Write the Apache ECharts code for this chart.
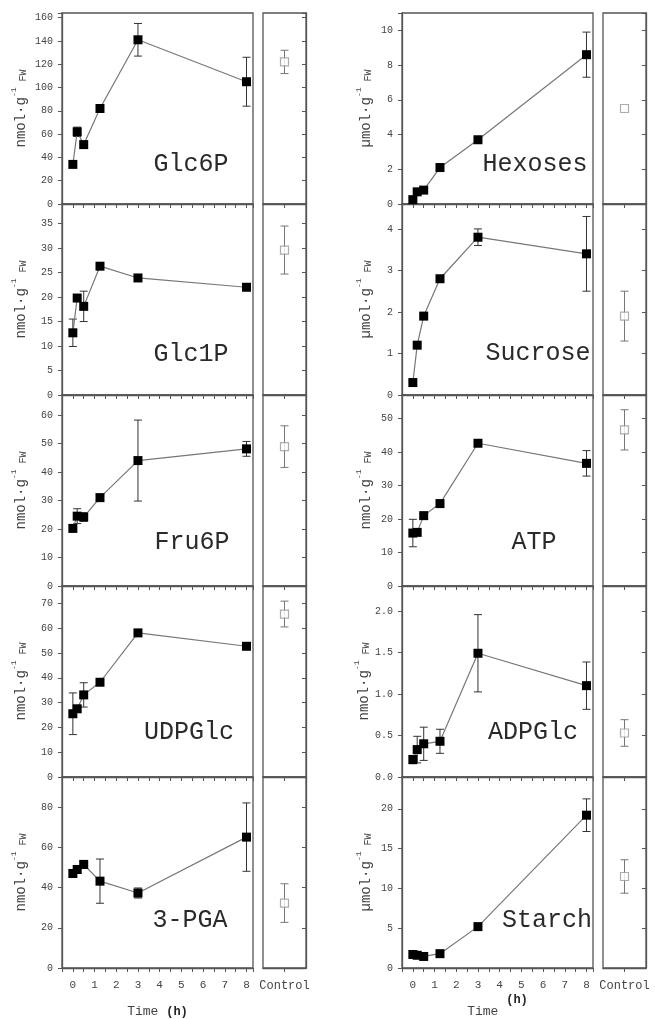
<!DOCTYPE html>
<html>
<head>
<meta charset="utf-8">
<script src="https://cdn.jsdelivr.net/npm/echarts@6/dist/echarts.min.js"></script>
<style>
html, body { margin: 0; padding: 0; background: #fff; }
#chart { width: 655px; height: 1019px; }
</style>
</head>
<body>
<div id="chart"></div>
<script>
// sampling times (h)
var times = [0, 0.2, 0.5, 1.25, 3, 8];

// value, error half-width, control [value, error]
var glc6p = [34, 62, 51, 82, 141, 105];
var glc6pErr = [0, 4, 0, 0, 14, 21];
var glc6pCtrl = [122, 10];

var hexoses = [0.25, 0.7, 0.8, 2.1, 3.7, 8.6];
var hexosesErr = [0, 0, 0, 0, 0, 1.3];
var hexosesCtrl = [5.5, 0];

var glc1p = [12.7, 19.8, 18.1, 26.3, 23.9, 22];
var glc1pErr = [2.8, 0, 3.1, 0, 0, 0];
var glc1pCtrl = [29.6, 4.9];

var sucrose = [0.3, 1.2, 1.9, 2.8, 3.8, 3.4];
var sucroseErr = [0, 0, 0, 0, 0.2, 0.9];
var sucroseCtrl = [1.9, 0.6];

var fru6p = [20.2, 24.5, 24.2, 31, 44, 48.1];
var fru6pErr = [0, 2.6, 1.5, 0, 14.2, 2.6];
var fru6pCtrl = [48.9, 7.3];

var atp = [15.8, 16, 21, 24.6, 42.6, 36.6];
var atpErr = [4.1, 0, 0, 0, 0, 3.8];
var atpCtrl = [46.6, 6];

var udpglc = [25.5, 27.5, 33.1, 38.2, 58.1, 52.7];
var udpglcErr = [8.4, 0, 4.9, 0, 0, 0];
var udpglcCtrl = [65.7, 5.2];

var adpglc = [0.21, 0.33, 0.4, 0.43, 1.49, 1.1];
var adpglcErr = [0.05, 0.16, 0.2, 0.145, 0.465, 0.285];
var adpglcCtrl = [0.53, 0.16];

var pga = [47, 49, 51.5, 43.2, 37.3, 65.1];
var pgaErr = [2, 2, 2, 11, 2.5, 17];
var pgaCtrl = [32.3, 9.6];

var starch = [1.7, 1.6, 1.45, 1.8, 5.2, 19.2];
var starchErr = [0, 0, 0, 0, 0, 2.05];
var starchCtrl = [11.5, 2.1];

var panels = [
  { label: "Glc6P", unit: "nmol", values: glc6p, err: glc6pErr, ctrl: glc6pCtrl, max: 164, step: 20, col: 0, row: 0, lx: 129, ly: 151 },
  { label: "Hexoses", unit: "µmol", values: hexoses, err: hexosesErr, ctrl: hexosesCtrl, max: 11, step: 2, col: 1, row: 0, lx: 133, ly: 151 },
  { label: "Glc1P", unit: "nmol", values: glc1p, err: glc1pErr, ctrl: glc1pCtrl, max: 39, step: 5, col: 0, row: 1, lx: 129, ly: 150 },
  { label: "Sucrose", unit: "µmol", values: sucrose, err: sucroseErr, ctrl: sucroseCtrl, max: 4.6, step: 1, col: 1, row: 1, lx: 136, ly: 149 },
  { label: "Fru6P", unit: "nmol", values: fru6p, err: fru6pErr, ctrl: fru6pCtrl, max: 67, step: 10, col: 0, row: 2, lx: 130, ly: 147 },
  { label: "ATP", unit: "nmol", values: atp, err: atpErr, ctrl: atpCtrl, max: 57, step: 10, col: 1, row: 2, lx: 132, ly: 147 },
  { label: "UDPGlc", unit: "nmol", values: udpglc, err: udpglcErr, ctrl: udpglcCtrl, max: 77, step: 10, col: 0, row: 3, lx: 127, ly: 146 },
  { label: "ADPGlc", unit: "nmol", values: adpglc, err: adpglcErr, ctrl: adpglcCtrl, max: 2.3, step: 0.5, col: 1, row: 3, lx: 131, ly: 146 },
  { label: "3-PGA", unit: "nmol", values: pga, err: pgaErr, ctrl: pgaCtrl, max: 95, step: 20, col: 0, row: 4, lx: 128, ly: 143 },
  { label: "Starch", unit: "µmol", values: starch, err: starchErr, ctrl: starchCtrl, max: 24, step: 5, col: 1, row: 4, lx: 145, ly: 143 },
];

var MONO = "'Liberation Mono', 'DejaVu Sans Mono', monospace";
var LINE = "#555";
var TEXT = "#444";
var TOP = 13;
var PH = 191;
var COL_LEFT = [62, 402];
var MAIN_W = 191;
var GAP = 10;
var CTRL_W = 43;
var NAME_GAP = [34, 29];

function errorBar(color) {
  return function (params, api) {
    var top = api.coord([api.value(0), api.value(2)]);
    var bot = api.coord([api.value(0), api.value(1)]);
    var w = 4;
    var st = { stroke: color, lineWidth: 1 };
    return {
      type: "group",
      children: [
        { type: "line", shape: { x1: top[0], y1: top[1], x2: bot[0], y2: bot[1] }, style: st },
        { type: "line", shape: { x1: top[0] - w, y1: top[1], x2: top[0] + w, y2: top[1] }, style: st },
        { type: "line", shape: { x1: bot[0] - w, y1: bot[1], x2: bot[0] + w, y2: bot[1] }, style: st },
      ],
    };
  };
}

var grids = [], xAxes = [], yAxes = [], series = [], graphics = [];

panels.forEach(function (p, i) {
  var top = TOP + p.row * PH;
  var left = COL_LEFT[p.col];
  var last = p.row === 4;
  var mi = 2 * i, ci = 2 * i + 1;
  var axisLine = { show: true, onZero: false, lineStyle: { color: LINE, width: 1.3 } };

  grids.push({
    left: left, top: top, width: MAIN_W, height: PH, show: true,
    borderColor: LINE, borderWidth: 1.3, containLabel: false, outerBoundsMode: "none",
  });
  grids.push({
    left: left + MAIN_W + GAP, top: top, width: CTRL_W, height: PH, show: true,
    borderColor: LINE, borderWidth: 1.3, containLabel: false, outerBoundsMode: "none",
  });

  xAxes.push({
    gridIndex: mi, type: "value", min: -0.5, max: 8.3, interval: 0.5,
    axisLine: axisLine, splitLine: { show: false },
    axisTick: { show: true, length: 4, lineStyle: { color: LINE } },
    axisLabel: {
      show: last, margin: 12, color: TEXT, fontFamily: MONO, fontSize: 11,
      formatter: function (v) {
        return Math.abs(v - Math.round(v)) < 1e-6 && v >= 0 && v <= 8 ? String(Math.round(v)) : "";
      },
    },
    name: last ? (p.col === 0 ? "{t|Time} {b|(h)}" : "{t|Time} {s|(h)}") : "",
    nameLocation: "middle", nameGap: 26,
    nameTextStyle: {
      fontFamily: MONO, fontSize: 13, color: TEXT,
      rich: {
        t: { fontFamily: MONO, fontSize: 13, color: TEXT, verticalAlign: "bottom", lineHeight: 24 },
        b: { fontFamily: MONO, fontSize: 12, color: "#222", fontWeight: "bold", verticalAlign: "bottom", lineHeight: 24 },
        s: { fontFamily: MONO, fontSize: 12, color: "#222", fontWeight: "bold", verticalAlign: "top" },
      },
    },
  });
  xAxes.push({
    gridIndex: ci, type: "category", data: ["Control"], boundaryGap: true,
    axisLine: axisLine,
    axisTick: { show: true, alignWithLabel: true, length: 4, lineStyle: { color: LINE } },
    axisLabel: { show: last, margin: 12, color: TEXT, fontFamily: MONO, fontSize: 12 },
  });

  yAxes.push({
    gridIndex: mi, type: "value", min: 0, max: p.max, interval: p.step,
    axisLine: axisLine, splitLine: { show: false },
    axisTick: { show: true, length: 4, lineStyle: { color: LINE } },
    axisLabel: {
      margin: 9, color: TEXT, fontFamily: MONO, fontSize: 10,
      formatter: function (v) {
        var k = v / p.step;
        if (Math.abs(k - Math.round(k)) > 1e-6) return "";
        return p.step < 1 ? v.toFixed(1) : String(v);
      },
    },
    name: "{m|" + p.unit + "·g}{s|-1}{f| FW}",
    nameLocation: "middle", nameGap: NAME_GAP[p.col],
    nameTextStyle: {
      fontFamily: MONO, fontSize: 14, color: TEXT,
      rich: {
        m: { fontFamily: MONO, fontSize: 14, color: TEXT, verticalAlign: "bottom", lineHeight: 18 },
        s: { fontFamily: MONO, fontSize: 8, color: TEXT, verticalAlign: "top" },
        f: { fontFamily: MONO, fontSize: 10, color: TEXT, verticalAlign: "bottom", lineHeight: 18 },
      },
    },
  });
  yAxes.push({
    gridIndex: ci, type: "value", position: "right", min: 0, max: p.max, interval: p.step,
    axisLine: axisLine, splitLine: { show: false },
    axisTick: { show: true, inside: true, length: 4, lineStyle: { color: LINE } },
    axisLabel: { show: false },
  });

  var errData = [];
  p.err.forEach(function (e, k) {
    if (e > 0) errData.push([times[k], p.values[k] - e, p.values[k] + e]);
  });
  series.push({
    type: "custom", xAxisIndex: mi, yAxisIndex: mi, z: 1,
    renderItem: errorBar("#333"), encode: { x: 0, y: [1, 2] }, data: errData,
  });
  series.push({
    type: "line", xAxisIndex: mi, yAxisIndex: mi, z: 2,
    data: times.map(function (t, k) { return [t, p.values[k]]; }),
    symbol: "rect", symbolSize: 9, showAllSymbol: true,
    itemStyle: { color: "#000" },
    lineStyle: { color: "#777", width: 1.2 },
  });

  var c = p.ctrl;
  series.push({
    type: "custom", xAxisIndex: ci, yAxisIndex: ci, z: 1,
    renderItem: errorBar("#777"), encode: { x: 0, y: [1, 2] },
    data: c[1] > 0 ? [[0, c[0] - c[1], c[0] + c[1]]] : [],
  });
  series.push({
    type: "scatter", xAxisIndex: ci, yAxisIndex: ci, z: 3,
    data: [[0, c[0]]], symbol: "rect", symbolSize: 8,
    itemStyle: { color: "#fff", borderColor: "#999", borderWidth: 1.2 },
  });

  graphics.push({
    type: "text", x: left + p.lx, y: top + p.ly, z: 10,
    style: {
      text: p.label, font: "25px " + MONO, fill: "#2a2a2a",
      textAlign: "center", textVerticalAlign: "middle",
    },
  });
});

var chart = echarts.init(document.getElementById("chart"), null, { renderer: "canvas" });
chart.setOption({
  animation: false,
  backgroundColor: "#fff",
  grid: grids,
  xAxis: xAxes,
  yAxis: yAxes,
  series: series,
  graphic: graphics,
});
</script>
</body>
</html>
